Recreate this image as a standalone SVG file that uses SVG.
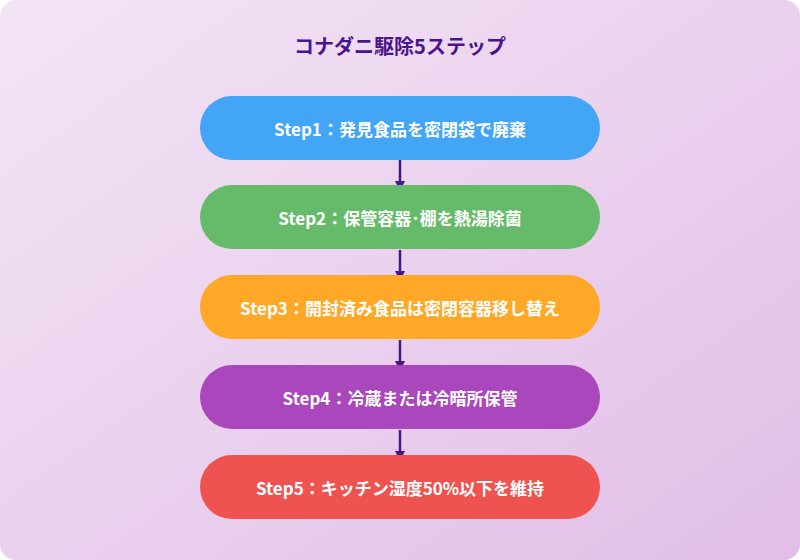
<svg xmlns="http://www.w3.org/2000/svg" width="800" height="560" viewBox="0 0 800 560">
<defs>
<linearGradient id="bg" x1="0" y1="0" x2="1" y2="1"><stop offset="0" stop-color="#f3e5f5"/><stop offset="1" stop-color="#e1bee7"/></linearGradient>
<marker id="ah" viewBox="0 0 10 10" refX="5" refY="5" markerWidth="4" markerHeight="4" orient="auto"><path d="M0,0L10,5L0,10z" fill="#4a148c"/></marker>
</defs>
<style>
.t{font-family:"Noto Sans CJK JP","Noto Sans",sans-serif;font-weight:bold;font-size:17px;fill:#fff;text-anchor:middle;dominant-baseline:central}
.c{stroke:#4a148c;stroke-width:2.5;fill:none;marker-end:url(#ah)}
</style>
<rect width="800" height="560" rx="16" fill="url(#bg)"/>
<text x="400" y="45" font-family="Noto Sans CJK JP,sans-serif" font-weight="bold" font-size="20" fill="#4a148c" text-anchor="middle" dominant-baseline="central">コナダニ駆除5ステップ</text>
<g id="connectors">
<path class="c" d="M400 160V186"/>
<path class="c" d="M400 250V276"/>
<path class="c" d="M400 340V366"/>
<path class="c" d="M400 430V456"/>
</g>
<g id="step1"><rect x="200" y="96" width="400" height="64" rx="32" fill="#42a5f5"/><text class="t" x="400" y="128">Step1：発見食品を密閉袋で廃棄</text></g>
<g id="step2"><rect x="200" y="185" width="400" height="64" rx="32" fill="#66bb6a"/><text class="t" x="400" y="217">Step2：保管容器･棚を熱湯除菌</text></g>
<g id="step3"><rect x="200" y="275" width="400" height="64" rx="32" fill="#ffa726"/><text class="t" x="400" y="307">Step3：開封済み食品は密閉容器移し替え</text></g>
<g id="step4"><rect x="200" y="365" width="400" height="64" rx="32" fill="#ab47bc"/><text class="t" x="400" y="397">Step4：冷蔵または冷暗所保管</text></g>
<g id="step5"><rect x="200" y="455" width="400" height="64" rx="32" fill="#ef5350"/><text class="t" x="400" y="487">Step5：キッチン湿度50%以下を維持</text></g>
</svg>
